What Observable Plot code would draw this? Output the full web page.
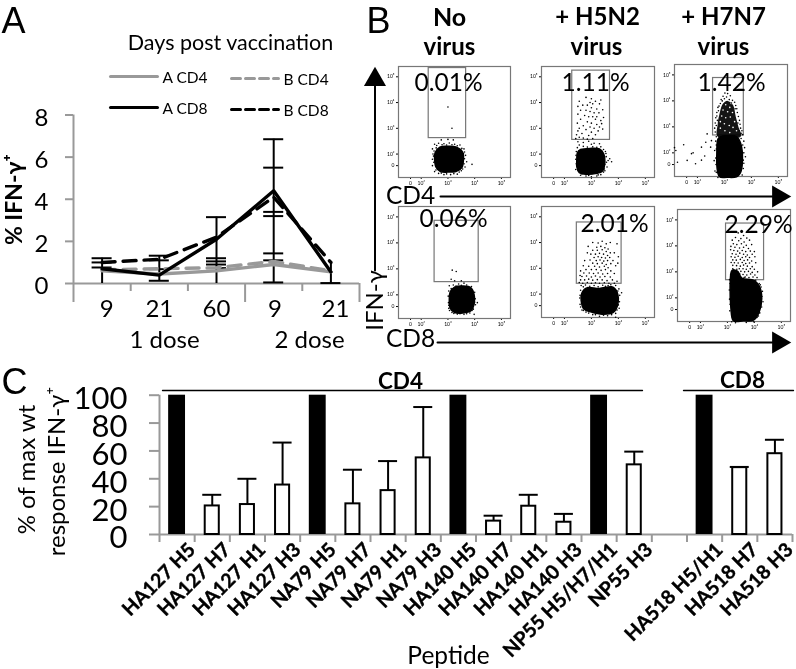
<!DOCTYPE html>
<html><head><meta charset="utf-8">
<script src="https://cdn.jsdelivr.net/npm/d3@7"></script>
<script src="https://cdn.jsdelivr.net/npm/@observablehq/plot@0.6"></script>
<style>
html,body{margin:0;padding:0;background:#fff}
#root{position:relative;width:796px;height:669px;overflow:hidden;filter:blur(0.3px)}
#root svg{position:absolute;overflow:visible;background:transparent!important}
</style></head><body><div id="root"></div>
<script>
const FONT='Lato, "Noto Sans", sans-serif';
/* ---------- Panel A ---------- */
const dayLabels=["9","21","60","9","21"];
const aCD4=[0.6,0.45,0.6,0.9,0.55];
const bCD4=[0.65,0.7,0.75,1.05,0.6];
const aCD8=[0.7,0.4,2.1,4.4,0.55];
const bCD8=[1.0,1.15,2.2,4.1,1.0];
const stemLow=[0,0.1,0,0.05,0];
const stemHigh=[1.2,1.32,3.15,6.85,0.92];
const capValues=[[1.2,1.0,0.76],[1.32,1.1,0.68,0.13],[3.15,1.2,1.05,0.9,0.73],[6.85,5.5,3.4,3.2,1.43,1.1,0.05],[0.02]];
const aYTicks=[0,2,4,6,8];
/* ---------- Panel C ---------- */
const peptides=["HA127 H5","HA127 H7","HA127 H1","HA127 H3","NA79 H5","NA79 H7","NA79 H1","NA79 H3","HA140 H5","HA140 H7","HA140 H1","HA140 H3","NP55 H5/H7/H1","NP55 H3","","HA518 H5/H1","HA518 H7","HA518 H3"];
const response=[100,20.5,21.5,35.5,100,22,31.5,55,100,9.6,20.3,8.8,100,50,null,100,48,58];
const responseTop=[null,28.5,40,66,null,46.5,52.7,91.5,null,13.5,28.5,14.8,null,59.5,null,null,48.5,68];
const cYTicks=[0,20,40,60,80,100];
/* ---------- Panel B: decades of fluorescence ---------- */
const flowXTicks=[1.6,2,3,4,5];
const flowYTicks=[1.55,2,3,4,5];
const flowTickText=["0","10²","10³","10⁴","10⁵"];
const gate1=[2.28,3.68,2.62,5.34], gate2=[2.29,3.69,2.55,5.24], gate3=[2.58,3.72,2.67,4.88];
const gate4=[2.5,4.15,2.49,4.85], gate5=[2.46,4.12,2.4,4.78], gate6=[2.95,4.36,2.68,4.86];
const blob1=[[2.52,2.05],[2.7,2.27],[3.0,2.3],[3.32,2.27],[3.55,2.08],[3.58,1.8],[3.52,1.47],[3.3,1.32],[3.0,1.3],[2.72,1.32],[2.55,1.5],[2.5,1.8]];
const blob2=[[2.48,2.05],[2.6,2.18],[2.95,2.22],[3.3,2.2],[3.46,2.0],[3.5,1.7],[3.42,1.35],[3.15,1.24],[2.8,1.22],[2.55,1.28],[2.46,1.5],[2.46,1.8]];
const blob3=[[2.77,2.55],[3.1,2.66],[3.45,2.62],[3.62,2.3],[3.67,1.8],[3.62,1.3],[3.45,1.08],[3.1,1.06],[2.82,1.08],[2.73,1.4],[2.72,2.0]];
const column3=[[2.78,2.6],[2.75,3.1],[2.82,3.5],[2.92,3.85],[3.12,4.0],[3.33,3.82],[3.42,3.4],[3.52,3.0],[3.58,2.6]];
const blob4=[[3.08,2.1],[3.25,2.3],[3.55,2.34],[3.85,2.28],[3.98,2.0],[3.98,1.65],[3.85,1.38],[3.55,1.3],[3.25,1.32],[3.08,1.5],[3.05,1.8]];
const blob5=[[2.65,2.05],[2.85,2.25],[3.3,2.22],[3.75,2.28],[3.96,2.05],[3.98,1.6],[3.8,1.28],[3.4,1.22],[3.0,1.3],[2.72,1.42],[2.62,1.75]];
const blob6=[[3.15,3.02],[3.38,3.02],[3.55,2.75],[4.0,2.66],[4.25,2.25],[4.22,1.6],[3.98,1.15],[3.6,1.12],[3.22,1.12],[3.13,1.6],[3.1,2.4]];
const dots1=[[3.0,3.83],[3.15,3.0],[2.5,2.38],[2.65,2.42],[2.85,2.4],[3.05,2.43],[3.25,2.38],[3.45,2.35],[3.6,2.2],[3.66,1.95],[3.7,1.7],[3.64,1.5],[3.5,1.35],[3.35,1.22],[3.1,1.2],[2.85,1.2],[2.65,1.25],[2.5,1.32],[2.42,1.55],[2.42,1.8],[2.44,2.0],[2.42,2.2],[2.75,2.55],[3.0,2.57],[3.2,2.55],[3.58,2.02],[2.56,2.24],[3.42,1.3],[3.9,1.6],[2.58,2.33],[2.78,2.36],[2.95,2.35],[3.15,2.36],[3.35,2.32],[3.52,2.22],[3.62,2.08],[3.62,1.82],[3.6,1.62],[3.55,1.42],[3.22,1.24],[2.95,1.23],[2.75,1.26],[2.55,1.38],[2.47,1.68],[2.46,1.92],[2.48,2.12]];
const dots2=[[2.8,4.2],[3.0,4.15],[2.95,4.0],[3.15,4.05],[3.3,3.95],[2.85,3.9],[3.0,3.8],[3.2,3.75],[2.6,3.7],[2.95,3.65],[3.1,3.6],[3.28,3.6],[2.5,3.55],[2.75,3.5],[2.9,3.45],[3.05,3.45],[3.15,3.35],[2.6,3.35],[3.35,3.3],[2.85,3.25],[3.0,3.2],[3.2,3.15],[2.7,3.1],[2.95,3.05],[3.1,3.0],[3.3,3.05],[2.55,3.0],[2.8,2.95],[3.25,2.9],[3.0,2.85],[2.65,2.8],[2.45,2.75],[2.9,2.72],[3.15,2.75],[2.55,2.65],[2.7,2.62],[2.85,2.58],[3.05,2.6],[2.42,2.6],[3.2,3.45],[2.8,3.7],[3.05,3.95],[2.5,2.48],[2.7,2.45],[2.9,2.5],[3.1,2.42],[3.3,2.4],[2.55,2.35],[3.0,2.38],[3.55,1.9],[3.62,1.75],[3.5,1.6],[3.58,1.5],[3.52,2.1],[3.68,1.82],[3.75,1.7],[2.42,1.4],[2.42,1.8],[2.44,2.1],[3.0,1.12],[2.8,1.15],[3.2,1.15],[3.45,1.3],[2.6,1.18],[3.35,1.2],[2.48,2.25],[2.7,2.3],[3.05,2.28],[3.35,2.28],[3.5,1.35],[2.85,2.27],[3.2,2.26],[3.45,2.18],[3.54,2.02],[3.56,1.68],[3.48,1.42],[3.25,1.19],[2.9,1.17],[2.65,1.23],[2.44,1.62],[2.43,1.95],[2.55,4.05],[3.35,4.1],[2.5,3.85],[3.42,3.72],[3.45,3.42],[2.48,3.2],[3.42,2.97],[2.5,2.9],[2.68,3.9],[3.38,3.18]];
const dots3=[[1.15,2.2],[1.2,2.09],[1.26,1.64],[1.49,2.31],[1.62,1.71],[1.78,1.97],[1.84,2.0],[1.93,1.58],[2.15,2.22],[2.15,1.72],[2.31,2.41],[2.27,1.88],[2.36,2.73],[2.49,2.22],[2.64,2.09],[2.52,2.47],[2.7,2.15],[2.62,1.7],[2.65,1.3],[2.68,2.45],
[3.02,4.3],[3.12,4.28],[2.95,4.18],[3.08,4.15],[3.22,4.2],[2.88,4.05],[3.0,4.08],[3.18,4.05],[3.3,4.02],[3.38,3.95],[2.85,3.9],[3.42,3.82],[2.76,3.75],[3.46,3.7],[2.72,3.55],[2.78,3.62],[3.48,3.55],[3.52,3.4],[2.68,3.35],[2.72,3.42],[3.56,3.25],[2.66,3.15],[3.58,3.1],[2.7,3.05],[3.6,2.95],[3.65,2.85],[2.64,2.95],[2.66,2.8],[3.62,2.75],[3.68,2.7],[3.72,2.45],[3.75,2.2],[3.72,2.0],[3.78,1.85],[3.72,1.6],[3.7,1.4],[3.66,1.15],[2.7,2.62],[2.68,1.8],[2.7,1.25],[2.76,1.05],[2.92,4.0],[3.26,3.92],[3.4,3.7],[2.8,3.8],[2.74,3.25],[3.5,3.15],[3.55,2.85],[3.62,2.55],[3.68,2.3],[3.7,1.72],[2.7,2.3],[2.69,1.55]];
const specks3=[[3.05,3.85],[3.2,3.75],[2.95,3.65],[3.12,3.58],[3.3,3.55],[2.9,3.42],[3.05,3.35],[3.22,3.38],[2.85,3.2],[3.38,3.2],[3.0,3.12],[3.18,3.05],[3.32,2.98],[2.85,2.95],[3.02,2.85],[3.45,2.85],[3.2,2.78],[2.82,3.72],[3.25,3.9]];
const dots4=[[3.16,2.95],[3.31,2.9],[3.12,2.6],[3.25,2.54],[3.5,2.54],[3.6,2.45],[3.05,2.35],[3.2,2.38],[3.4,2.42],[3.7,2.38],[3.88,2.32],[4.0,2.1],[4.02,1.85],[4.03,1.62],[3.95,1.45],[3.82,1.3],[3.6,1.25],[3.35,1.26],[3.15,1.32],[3.03,1.48],[3.02,1.7],[3.01,1.95],[3.03,2.15],[3.98,1.25],[4.1,1.7],[3.12,2.24],[3.3,2.34],[3.5,2.37],[3.75,2.32],[3.92,2.18],[3.99,1.92],[4.0,1.72],[3.9,1.4],[3.7,1.27],[3.45,1.27],[3.22,1.28],[3.06,1.4],[3.03,1.6]];
const dots5=[[3.4,4.05],[3.25,3.98],[3.55,3.95],[3.7,4.0],[3.2,3.82],[3.35,3.85],[3.5,3.8],[3.62,3.75],[3.95,3.95],[3.05,3.7],[3.22,3.7],[3.4,3.72],[3.55,3.65],[3.7,3.6],[2.98,3.55],[3.15,3.55],[3.3,3.58],[3.45,3.55],[3.6,3.5],[3.1,3.42],[3.25,3.45],[3.38,3.42],[3.52,3.4],[3.68,3.42],[2.95,3.32],[3.18,3.3],[3.32,3.32],[3.46,3.28],[3.6,3.3],[3.8,3.3],[3.05,3.2],[3.22,3.18],[3.4,3.2],[3.55,3.15],[3.72,3.18],[2.9,3.08],[3.12,3.08],[3.3,3.05],[3.48,3.08],[3.62,3.02],[3.9,3.1],[2.8,2.95],[3.0,2.95],[3.18,2.95],[3.36,2.92],[3.52,2.95],[3.72,2.9],[2.72,2.82],[2.92,2.82],[3.08,2.8],[3.25,2.82],[3.42,2.78],[3.6,2.8],[3.85,2.8],[2.65,2.68],[2.82,2.7],[3.0,2.66],[3.15,2.7],[3.32,2.66],[3.5,2.68],[3.7,2.66],[2.6,2.55],[2.75,2.55],[2.9,2.58],[3.05,2.54],[3.22,2.56],[3.4,2.55],[3.58,2.52],[3.78,2.55],[3.95,2.5],[2.55,2.45],[2.68,2.42],[2.85,2.45],[3.0,2.42],[3.15,2.44],[3.3,2.42],[3.48,2.44],[3.65,2.42],[3.85,2.42],[2.62,2.33],[2.78,2.35],[3.1,2.33],[3.42,2.34],[3.62,2.33],[3.9,2.33],[4.02,2.2],[4.05,1.95],[4.12,2.05],[4.04,1.7],[4.03,1.45],[3.9,1.25],[3.6,1.16],[3.3,1.14],[3.05,1.2],[2.8,1.3],[2.65,1.38],[2.58,1.6],[2.57,1.85],[2.6,2.15],[3.9,1.1],[2.7,2.28],[2.94,2.3],[3.25,2.28],[3.52,2.3],[3.72,2.36],[3.98,2.12],[4.0,1.85],[4.0,1.58],[3.95,1.38],[3.75,1.2],[3.45,1.18],[3.15,1.2],[2.9,1.26],[2.7,1.36],[2.6,1.5],[2.58,1.95],[2.85,3.6],[2.75,3.3],[2.7,3.1],[3.85,3.6],[4.0,3.45],[2.6,2.9],[2.88,3.85],[3.05,4.0],[2.58,2.72],[3.98,3.2]];
const dots6=[[3.4,4.5],[3.6,4.4],[3.3,4.32],[3.5,4.28],[3.72,4.3],[3.18,4.22],[3.42,4.2],[3.62,4.15],[3.82,4.22],[3.22,4.08],[3.35,4.05],[3.52,4.08],[3.7,4.02],[3.9,4.05],[3.13,3.98],[3.28,3.95],[3.45,3.92],[3.6,3.95],[3.78,3.9],[3.12,3.85],[3.24,3.82],[3.38,3.8],[3.55,3.82],[3.68,3.78],[3.85,3.8],[4.0,3.78],[3.18,3.7],[3.32,3.68],[3.46,3.72],[3.6,3.68],[3.74,3.65],[3.92,3.68],[3.14,3.58],[3.28,3.56],[3.4,3.6],[3.55,3.55],[3.68,3.58],[3.82,3.55],[4.02,3.58],[3.2,3.46],[3.33,3.45],[3.48,3.48],[3.62,3.44],[3.75,3.46],[3.9,3.42],[3.14,3.36],[3.26,3.35],[3.4,3.34],[3.55,3.36],[3.68,3.32],[3.82,3.34],[4.05,3.35],[3.2,3.25],[3.34,3.24],[3.48,3.22],[3.6,3.26],[3.74,3.22],[3.92,3.2],[3.44,3.12],[3.58,3.12],[3.7,3.1],[3.85,3.12],[4.0,3.1],[3.5,3.02],[3.64,3.0],[3.78,3.02],[3.92,2.98],[4.12,3.0],[3.58,2.9],[3.72,2.88],[3.86,2.92],[4.02,2.88],[3.66,2.8],[3.8,2.78],[3.95,2.8],[4.1,2.78],[4.05,2.68],[4.18,2.55],[4.25,2.42],[4.3,2.25],[4.28,2.05],[4.32,1.85],[4.27,1.65],[4.2,1.42],[4.1,1.25],[3.98,1.08],[3.12,2.9],[3.08,2.7],[3.07,2.3],[3.08,1.95],[3.09,1.5],[3.16,1.08],[3.3,1.04],[3.7,1.05],[4.22,2.5],[4.26,1.98],[4.24,1.72],[4.15,1.3],[3.35,3.1],[3.2,3.12],[3.46,2.92],[3.62,2.78],[3.1,2.55],[3.1,1.75]];
/* ---------- builders ---------- */
const root=document.getElementById("root");
const place=(svg,left,top)=>{svg.style.left=left+"px";svg.style.top=top+"px";root.appendChild(svg);};

function panelA(){
  const c=i=>i+0.5;
  const row=a=>a.map((v,i)=>({x:c(i),y:v}));
  const caps=capValues.flatMap((vs,i)=>vs.map(v=>({i,v})));
  return Plot.plot({
    width:370,height:362,marginLeft:73,marginRight:11,marginTop:114.5,marginBottom:79,
    style:{fontFamily:FONT,background:"transparent"},
    x:{domain:[0,5],axis:null},y:{domain:[0,8],axis:null},
    marks:[
      Plot.ruleX([0],{stroke:"#999",strokeWidth:2}),
      Plot.ruleY([0],{stroke:"#999",strokeWidth:2}),
      Plot.axisY({ticks:aYTicks,tickSize:8,stroke:"#999",strokeWidth:2,fill:"none",label:null}),
      Plot.axisY({ticks:aYTicks,tickSize:0,tickPadding:25,dy:3,fontSize:24,fill:"black",label:null}),
      Plot.axisX({ticks:[1,2,4],tickSize:8,stroke:"#999",strokeWidth:2,fill:"none",label:null}),
      Plot.axisX({ticks:[0,3,5],tickSize:19,stroke:"#999",strokeWidth:2,fill:"none",label:null}),
      Plot.ruleX(stemLow.map((v,i)=>({x:c(i),lo:v,hi:stemHigh[i]})),{x:"x",y1:"lo",y2:"hi",stroke:"black",strokeWidth:2}),
      Plot.ruleY(caps,{y:"v",x1:d=>c(d.i)-0.175,x2:d=>c(d.i)+0.175,stroke:"black",strokeWidth:2}),
      Plot.line(row(bCD4),{x:"x",y:"y",stroke:"#999",strokeWidth:3.4,strokeDasharray:"13,8"}),
      Plot.line(row(aCD4),{x:"x",y:"y",stroke:"#999",strokeWidth:3.4}),
      Plot.line(row(bCD8),{x:"x",y:"y",stroke:"black",strokeWidth:3.4,strokeDasharray:"13,8"}),
      Plot.line(row(aCD8),{x:"x",y:"y",stroke:"black",strokeWidth:3.4}),
      Plot.text(dayLabels,{x:[0.58,1.5,2.5,3.52,4.58],y:[0,0,0,0,0],text:d=>d,dy:26,fontSize:24,lineAnchor:"middle"})
    ]});
}

function flow(box,gate,blob,dots,extra=[]){
  const [left,top,w,h]=box, mL=22,mT=3,mB=14,mR=4;
  const fmt=(ticks)=>(v=>flowTickText[ticks.indexOf(v)]);
  return place(Plot.plot({
    width:w+mL+mR,height:h+mT+mB,marginLeft:mL,marginRight:mR,marginTop:mT,marginBottom:mB,
    style:{fontFamily:FONT,background:"transparent"},
    x:{domain:[1.15,5.34],axis:null},y:{domain:[1.09,5.4],axis:null},
    marks:[
      Plot.axisY({ticks:flowYTicks,tickFormat:fmt(flowYTicks),tickSize:2,tickPadding:2,fontSize:5,label:null,stroke:"black"}),
      Plot.axisX({ticks:flowXTicks,tickFormat:fmt(flowXTicks),tickSize:2,tickPadding:2,fontSize:5,label:null,stroke:"black"}),
      Plot.frame({stroke:"#777",strokeWidth:1.2}),
      Plot.rect([gate],{x1:d=>d[0],x2:d=>d[1],y1:d=>d[2],y2:d=>d[3],fill:"none",stroke:"#777",strokeWidth:1.2}),
      ...extra,
      Plot.line(blob,{x:d=>d[0],y:d=>d[1],fill:"black",stroke:"black",curve:"cardinal-closed"}),
      Plot.dot(dots,{x:d=>d[0],y:d=>d[1],r:0.8,fill:"black",stroke:"none"})
    ]}),left-mL,top-mT);
}

function panelC(){
  const rows=peptides.map((p,i)=>({p,i,v:response[i],top:responseTop[i]}));
  const solid=rows.filter(d=>d.v===100), open=rows.filter(d=>d.v!=null&&d.v<100);
  return Plot.plot({
    width:796,height:669,marginLeft:159,marginRight:4,marginTop:394.7,marginBottom:135,
    style:{fontFamily:FONT,background:"transparent"},
    x:{domain:[0,18],axis:null},y:{domain:[0,100],axis:null},
    marks:[
      Plot.ruleX([0],{stroke:"#999",strokeWidth:2}),
      Plot.ruleY([0],{stroke:"#999",strokeWidth:2}),
      Plot.axisY({ticks:cYTicks,tickSize:10,stroke:"#999",strokeWidth:2,fill:"none",label:null}),
      Plot.axisY({ticks:cYTicks,tickSize:0,tickPadding:32,dy:4,fontSize:31,fill:"black",label:null}),
      Plot.axisX({ticks:d3.range(19),tickSize:8,stroke:"#999",strokeWidth:2,fill:"none",label:null}),
      Plot.ruleX(open,{x:d=>d.i+0.5,y1:"v",y2:"top",stroke:"black",strokeWidth:2}),
      Plot.ruleY(open,{y:"top",x1:d=>d.i+0.23,x2:d=>d.i+0.77,stroke:"black",strokeWidth:2}),
      Plot.rect(solid,{x1:d=>d.i+0.26,x2:d=>d.i+0.74,y1:0,y2:"v",fill:"black"}),
      Plot.rect(open,{x1:d=>d.i+0.3,x2:d=>d.i+0.7,y1:0,y2:"v",fill:"white",stroke:"black",strokeWidth:2}),
      Plot.text(rows.filter(d=>d.p),{x:d=>d.i+0.5,y:0,text:"p",rotate:-45,textAnchor:"end",lineAnchor:"middle",dx:15,dy:12,fontSize:19.5,fontWeight:700,fill:"black",stroke:"black",strokeWidth:0.4})
    ]});
}

const notes=[
 ["A",13,21,36,0,"L"],["B",378,21,36,0,"L"],["C",14,382,36,0,"L"],
 ["Days post vaccination",230,43,21.5,0],
 ["A CD4",162,78,15.5,0,"S"],["B CD4",283,80,15.5,0,"S"],["A CD8",162,109,15.5,0,"S"],["B CD8",283,111,15.5,0,"S"],
 ["1 dose",164,340,24,0],["2 dose",309,340,24,0],
 ["0.01%",448,83,24.5,0],["1.11%",595,83,24.5,0],["1.42%",731,83,24.5,0],
 ["0.06%",453,219,24.5,0],["2.01%",614,224,24.5,0],["2.29%",758,225,24.5,0],
 ["CD4",410,196,24.5,0],["CD8",410,339,24.5,0],
 ["IFN-γ",375,300,24,-90],
 ["% of max wt",27,469,24,-90],["response IFN-γ⁺",57,471,24,-90],
 ["Peptide",448,656,24.5,0]
];
const boldNotes=[
 ["% IFN-γ⁺",14,199,23,-90],
 ["No",449,17,25,0],["virus",449,47,24,0],["+ H5N2",597,17,24,0],["virus",596,47,24,0],["+ H7N7",723,17,24,0],["virus",723,47,24,0],
 ["CD4",400,381,22.5,0],["CD8",742,380,22.5,0]
];
const txt=(arr,o={})=>Plot.text(arr,{x:d=>d[1],y:d=>d[2],text:d=>d[0],fontSize:d=>d[3],rotate:d=>d[4],lineAnchor:"middle",textAnchor:"middle",...o});
const seg=(x1,y1,x2,y2,o)=>Plot.line([[x1,y1],[x2,y2]],{x:d=>d[0],y:d=>d[1],...o});
const head=(x,y,rotate)=>Plot.dot([[x,y]],{x:d=>d[0],y:d=>d[1],symbol:"triangle",r:8.2,fill:"black",stroke:"none",rotate});
function overlay(){
  return Plot.plot({
    width:796,height:669,margin:0,
    style:{fontFamily:FONT,background:"transparent"},
    x:{type:"identity",axis:null},y:{type:"identity",axis:null},
    marks:[
      seg(110,76,157,76,{stroke:"#999",strokeWidth:3}),
      seg(231,78,278,78,{stroke:"#999",strokeWidth:3,strokeDasharray:"9,5"}),
      seg(110,107,157,107,{stroke:"black",strokeWidth:3}),
      seg(231,109,278,109,{stroke:"black",strokeWidth:3,strokeDasharray:"9,5"}),
      seg(374.5,84,374.5,270,{stroke:"black",strokeWidth:2}),
      seg(440,196,772,196,{stroke:"black",strokeWidth:2}),
      seg(437,342,772,342,{stroke:"black",strokeWidth:2}),
      head(374.5,79,0),head(778,196,90),head(778,342,90),
      seg(162,390,642,390,{stroke:"black",strokeWidth:1.3}),
      seg(683,390,793,390,{stroke:"black",strokeWidth:1.3}),
      txt(notes.filter(d=>d[5]==="S"),{textAnchor:"start"}),
      txt(notes.filter(d=>d[5]==="L"),{fontFamily:"Liberation Sans"}),
      txt(notes.filter(d=>!d[5])),
      txt(boldNotes,{fontWeight:700})
    ]});
}

place(panelA(),0,0);
flow([398,66,112,111],gate1,blob1,dots1);
flow([541,66,113,111],gate2,blob2,dots2);
flow([674,64,113,112],gate3,blob3,dots3,[
  Plot.line(column3,{x:d=>d[0],y:d=>d[1],fill:"black",fillOpacity:0.92,stroke:"none",curve:"cardinal-closed"}),
  Plot.dot(specks3,{x:d=>d[0],y:d=>d[1],r:0.8,fill:"white",stroke:"none"})
]);
flow([398,206,112,112],gate4,blob4,dots4);
flow([541,206,113,111],gate5,blob5,dots5);
flow([677,209,113,112],gate6,blob6,dots6);
place(panelC(),0,0);
place(overlay(),0,0);
</script></body></html>
